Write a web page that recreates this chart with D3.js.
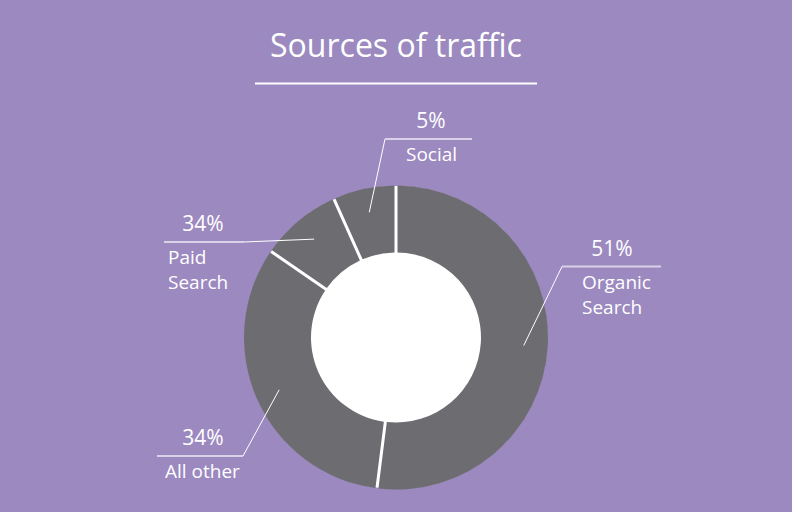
<!DOCTYPE html>
<html>
<head>
<meta charset="utf-8">
<script src="https://cdn.jsdelivr.net/npm/d3@7"></script>
<style>
  html, body { margin: 0; padding: 0; background: #9b89c0; }
  svg { display: block; font-family: "Open Sans", sans-serif; }
</style>
</head>
<body>
<svg id="chart"></svg>
<script>
// slice sizes (angles), printed labels kept as in the original
var categories = ["Organic Search", "All other", "Paid Search", "Social"];
var shares = [52, 32.6, 8.7, 6.7];
var pctLabels = ["51%", "34%", "34%", "5%"];
var nameLines = [["Organic", "Search"], ["All other"], ["Paid", "Search"], ["Social"]];

var width = 792, height = 512;
var cx = 396, cy = 337.5;
var outerR = 152, innerR = 86;

// where each label's elbow sits, relative to the centre
var labelLayout = [
  { ex: 166, ey: -71, hx2: 265, px: 216, nx: 186 },
  { ex: -153, ey: 118.5, hx2: -239, px: -193, nx: -231 },
  { ex: -152, ey: -95.5, hx2: -232, px: -193, nx: -228 },
  { ex: -11, ey: -198.5, hx2: 76, px: 35, nx: 10 }
];

var svg = d3.select("#chart")
  .attr("width", width)
  .attr("height", height);

svg.append("rect")
  .attr("width", width).attr("height", height)
  .attr("fill", "#9b89c0");

// title + underline
svg.append("text")
  .attr("x", cx).attr("y", 57)
  .attr("text-anchor", "middle")
  .attr("font-size", 32)
  .attr("fill", "#fff")
  .text("Sources of traffic");

svg.append("line")
  .attr("x1", 255).attr("x2", 537)
  .attr("y1", 83.5).attr("y2", 83.5)
  .attr("stroke", "#fff").attr("stroke-width", 2);

var g = svg.append("g").attr("transform", `translate(${cx},${cy})`);

var pie = d3.pie().value(d => d).sort(null);
var arcs = pie(shares);

var arc = d3.arc()
  .innerRadius(innerR - 1)
  .outerRadius(outerR)
  .padAngle(3 / 120)
  .padRadius(120);

// white hole
g.append("circle").attr("r", innerR).attr("fill", "#fff");

// white ring under the padded slices gives the gaps
g.append("path")
  .attr("d", d3.arc().innerRadius(innerR - 1).outerRadius(outerR - 0.5)({ startAngle: 0, endAngle: 2 * Math.PI }))
  .attr("fill", "#fff");

g.selectAll(".slice")
  .data(arcs)
  .join("path")
  .attr("class", "slice")
  .attr("d", arc)
  .attr("fill", "#6d6c71");

// leader lines
var startArc = d3.arc().innerRadius(128).outerRadius(128);

var labels = g.selectAll(".lab")
  .data(arcs)
  .join("g")
  .attr("class", "lab");

labels.append("line")
  .attr("x1", d => startArc.centroid(d)[0])
  .attr("y1", d => startArc.centroid(d)[1])
  .attr("x2", (d, i) => labelLayout[i].ex)
  .attr("y2", (d, i) => labelLayout[i].ey)
  .attr("stroke", "#fff")
  .attr("stroke-width", 1);

labels.append("line")
  .attr("x1", (d, i) => labelLayout[i].ex)
  .attr("y1", (d, i) => labelLayout[i].ey)
  .attr("x2", (d, i) => labelLayout[i].hx2)
  .attr("y2", (d, i) => labelLayout[i].ey)
  .attr("stroke", "#d9d1e8")
  .attr("stroke-width", 2);

labels.append("text")
  .attr("x", (d, i) => labelLayout[i].px)
  .attr("y", (d, i) => labelLayout[i].ey - 11)
  .attr("text-anchor", "middle")
  .attr("font-size", 21)
  .attr("fill", "#fff")
  .text((d, i) => pctLabels[i]);

labels.each(function (d, i) {
  var t = d3.select(this).append("text")
    .attr("x", labelLayout[i].nx)
    .attr("y", labelLayout[i].ey + 22)
    .attr("font-size", 19)
    .attr("fill", "#fff");
  t.selectAll("tspan")
    .data(nameLines[i])
    .join("tspan")
    .attr("x", labelLayout[i].nx)
    .attr("dy", (s, j) => j === 0 ? 0 : 25)
    .text(s => s);
});
</script>
</body>
</html>
